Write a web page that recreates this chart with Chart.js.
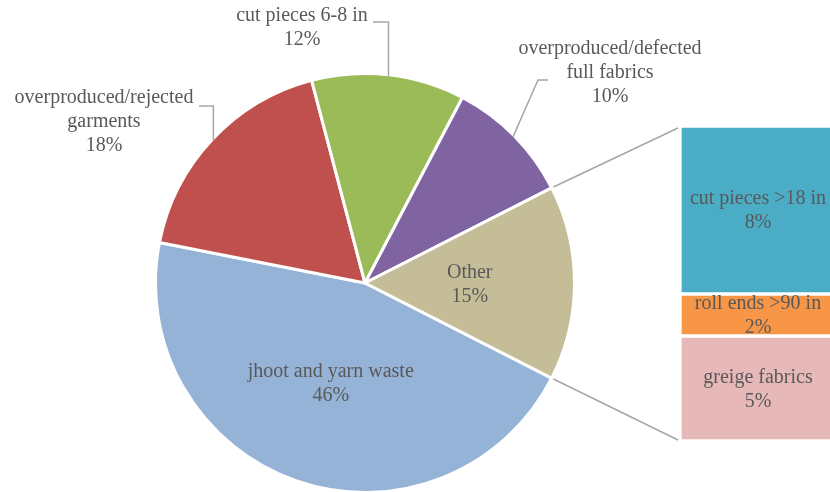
<!DOCTYPE html>
<html>
<head>
<meta charset="utf-8">
<script src="https://cdn.jsdelivr.net/npm/chart.js@4.4.1/dist/chart.umd.min.js"></script>
<style>
  html, body { margin: 0; padding: 0; background: #fff; overflow: hidden; }
  #wrap { position: relative; width: 830px; height: 492px; overflow: hidden; }
  #wrap canvas { position: absolute; left: 0; top: 0; }
</style>
</head>
<body>
<div id="wrap">
  <canvas id="pieChart" width="840" height="492"></canvas>
  <canvas id="barChart" width="840" height="492"></canvas>
</div>
<script>
// main pie, clockwise from the lower edge of "Other"
const pieLabels = [
  ['jhoot and yarn waste'],
  ['overproduced/rejected', 'garments'],
  ['cut pieces 6-8 in'],
  ['overproduced/defected', 'full fabrics'],
];
const pieValues = [45.6, 17.8, 11.8, 9.8];
const pieColors = ['#95B3D7', '#C0504D', '#9BBB59', '#8064A2'];

// breakdown of "Other", top to bottom in the bar
const otherLabels = ['cut pieces >18 in', 'roll ends >90 in', 'greige fabrics'];
const otherValues = [8, 2, 5];
const otherColors = ['#4BACC6', '#F79646', '#E6B9B8'];
const otherColor = '#C4BD97';

const FONT = '20px "Liberation Serif", "DejaVu Serif", serif';
const TEXT = '#595959';
const LEADER = '#A6A6A6';
const LINE_H = 24;

const otherTotal = otherValues.reduce((s, v) => s + v, 0);
const allLabels = [...pieLabels, ['Other']];
const allValues = [...pieValues, otherTotal];
const total = allValues.reduce((s, v) => s + v, 0);
const pct = v => Math.round(v / total * 100) + '%';

// outside labels: centre of first line, leader elbow and end
const callouts = {
  1: { x: 104, y: 98, elbowX: null, elbowY: 106, endX: 199 },
  2: { x: 302, y: 16, elbowX: null, elbowY: 22, endX: 373 },
  3: { x: 610, y: 49, elbowX: 538, elbowY: 80, endX: 548 },
};

function drawLines(ctx, lines, x, y) {
  lines.forEach((t, i) => ctx.fillText(t, x, y + i * LINE_H));
}

const pieLabelPlugin = {
  id: 'pieLabels',
  afterDatasetsDraw(chart) {
    const ctx = chart.ctx;
    const arcs = chart.getDatasetMeta(0).data;
    ctx.save();
    ctx.font = FONT;
    ctx.fillStyle = TEXT;
    ctx.textAlign = 'center';
    ctx.textBaseline = 'middle';
    arcs.forEach((arc, i) => {
      const lines = [...allLabels[i], pct(allValues[i])];
      const c = callouts[i];
      if (!c) {
        const p = arc.getCenterPoint();
        drawLines(ctx, lines, p.x, p.y - (lines.length - 1) * LINE_H / 2 + 2);
        return;
      }
      const mid = (arc.startAngle + arc.endAngle) / 2;
      const r = arc.outerRadius - 1.5;
      const px = arc.x + Math.cos(mid) * r;
      const py = arc.y + Math.sin(mid) * r;
      ctx.beginPath();
      ctx.strokeStyle = LEADER;
      ctx.lineWidth = 1.5;
      ctx.moveTo(px, py);
      ctx.lineTo(c.elbowX == null ? px : c.elbowX, c.elbowY);
      ctx.lineTo(c.endX, c.elbowY);
      ctx.stroke();
      drawLines(ctx, lines, c.x, c.y);
    });
    ctx.restore();
  }
};

const pieChart = new Chart(document.getElementById('pieChart'), {
  type: 'pie',
  data: {
    labels: allLabels,
    datasets: [{
      data: allValues,
      backgroundColor: [...pieColors, otherColor],
      borderColor: '#fff',
      borderWidth: 3,
    }]
  },
  options: {
    responsive: false, animation: false,
    radius: 209.5,
    rotation: 90 + otherTotal / total * 180,
    layout: { padding: { left: 157, right: 267, top: 75, bottom: 1 } },
    plugins: { legend: { display: false }, tooltip: { enabled: false } }
  },
  plugins: [pieLabelPlugin]
});

// joins the "Other" slice to the bar, and labels the bar segments
const barPlugin = {
  id: 'barLabels',
  afterDatasetsDraw(chart) {
    const ctx = chart.ctx;
    const other = pieChart.getDatasetMeta(0).data[allValues.length - 1];
    const n = chart.data.datasets.length;
    const topBar = chart.getDatasetMeta(n - 1).data[0];
    const botBar = chart.getDatasetMeta(0).data[0];
    const left = topBar.x - topBar.width / 2;
    const top = Math.min(topBar.y, topBar.base);
    const bottom = Math.max(botBar.y, botBar.base);
    const r = other.outerRadius + 2;

    ctx.save();
    ctx.strokeStyle = LEADER;
    ctx.lineWidth = 1.5;
    ctx.beginPath();
    ctx.moveTo(other.x + Math.cos(other.startAngle) * r, other.y + Math.sin(other.startAngle) * r);
    ctx.lineTo(left - 2, top + 2);
    ctx.moveTo(other.x + Math.cos(other.endAngle) * r, other.y + Math.sin(other.endAngle) * r);
    ctx.lineTo(left - 2, bottom - 1);
    ctx.stroke();

    ctx.font = FONT;
    ctx.fillStyle = TEXT;
    ctx.textAlign = 'center';
    ctx.textBaseline = 'middle';
    chart.data.datasets.forEach((ds, i) => {
      const bar = chart.getDatasetMeta(i).data[0];
      const cy = (bar.y + bar.base) / 2;
      drawLines(ctx, [ds.label, pct(ds.data[0])], bar.x, cy - LINE_H / 2 + 1);
    });
    ctx.restore();
  }
};

// stacked from the bottom up, so the list is reversed
const order = otherLabels.map((_, i) => i).reverse();

new Chart(document.getElementById('barChart'), {
  type: 'bar',
  data: {
    labels: ['Other'],
    datasets: order.map(i => ({
      label: otherLabels[i],
      data: [otherValues[i]],
      backgroundColor: otherColors[i],
      borderColor: '#fff',
      borderWidth: 2,
      borderSkipped: false,
      barPercentage: 1,
      categoryPercentage: 1,
    }))
  },
  options: {
    responsive: false, animation: false,
    layout: { padding: { left: 680, right: 4, top: 126, bottom: 51 } },
    scales: {
      x: { stacked: true, display: false },
      y: { stacked: true, display: false, min: 0, max: otherTotal }
    },
    plugins: { legend: { display: false }, tooltip: { enabled: false } }
  },
  plugins: [barPlugin]
});
</script>
</body>
</html>
